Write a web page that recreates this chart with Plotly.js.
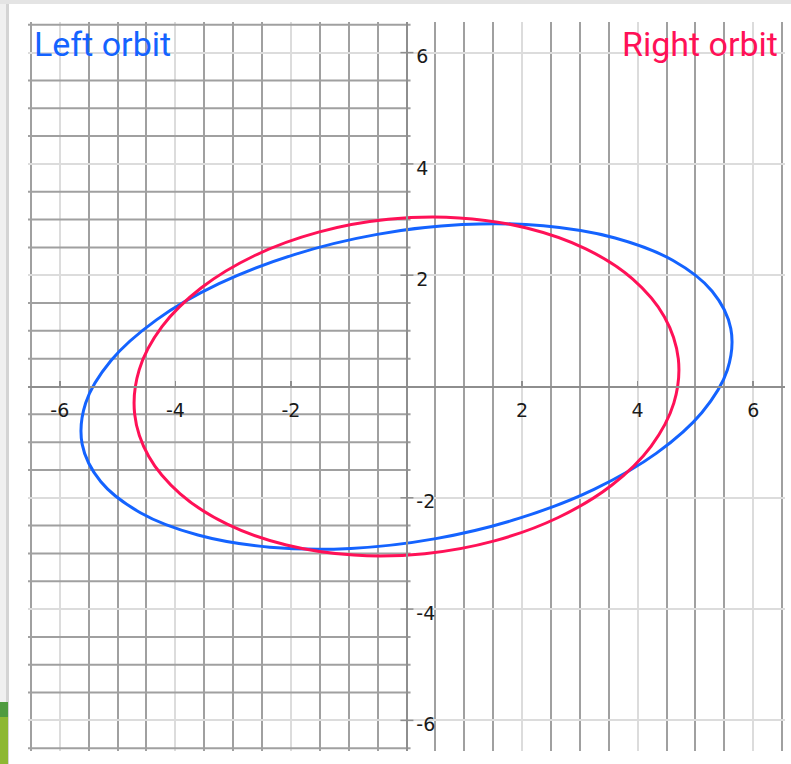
<!DOCTYPE html>
<html>
<head>
<meta charset="utf-8">
<script src="https://cdn.plot.ly/plotly-3.0.1.min.js"></script>
<style>
html,body{margin:0;padding:0;background:#ffffff;}
#chart{width:791px;height:764px;}
</style>
</head>
<body>
<div id="chart"></div>
<script>
// ---- data ----
const tickValues = [-6, -4, -2, 2, 4, 6];
const tickLabels = ['-6', '-4', '-2', '2', '4', '6'];
const seriesNames = ['Left orbit', 'Right orbit'];

// points along each orbit (closed loops)
const leftOrbitX = [5.612, 5.289, 4.606, 3.610, 2.367, 0.963, -0.507, -1.942, -3.245, -4.327, -5.113, -5.552,
                    -5.612, -5.289, -4.606, -3.610, -2.367, -0.963, 0.507, 1.942, 3.245, 4.327, 5.113, 5.552, 5.612];
const leftOrbitY = [1.040, 1.712, 2.268, 2.669, 2.888, 2.910, 2.734, 2.371, 1.847, 1.197, 0.466, -0.297,
                    -1.040, -1.712, -2.268, -2.669, -2.888, -2.910, -2.734, -2.371, -1.847, -1.197, -0.466, 0.297, 1.040];

const rightOrbitX = [4.704, 4.462, 3.916, 3.103, 2.079, 0.913, -0.316, -1.522, -2.626, -3.550, -4.232, -4.626,
                     -4.704, -4.462, -3.916, -3.103, -2.079, -0.913, 0.316, 1.522, 2.626, 3.550, 4.232, 4.626, 4.704];
const rightOrbitY = [0.495, 1.255, 1.930, 2.474, 2.849, 3.030, 3.004, 2.774, 2.354, 1.774, 1.074, 0.300,
                     -0.495, -1.255, -1.930, -2.474, -2.849, -3.030, -3.004, -2.774, -2.354, -1.774, -1.074, -0.300, 0.495];

// ---- styles ----
const BLUE = '#1463FF';
const RED = '#FF1157';
const DARK = '#a0a0a0';
const LIGHT = '#dcdcdc';
const AXIS = '#8e8e8e';

const traces = [
  {x: leftOrbitX, y: leftOrbitY, name: seriesNames[0], mode: 'lines',
   line: {color: BLUE, width: 3, shape: 'spline', smoothing: 1}, hoverinfo: 'skip'},
  {x: rightOrbitX, y: rightOrbitY, name: seriesNames[1], mode: 'lines',
   line: {color: RED, width: 3, shape: 'spline', smoothing: 1}, hoverinfo: 'skip'}
];

// geometry of the plot area (pixels)
const M = {l: 28, r: 6, t: 22, b: 13};
const W = 791, H = 764;
const PW = W - M.l - M.r, PH = H - M.t - M.b;
const px2paperX = p => (p - M.l) / PW;
const px2paperY = p => 1 - (p - M.t) / PH;

const shapes = [];
// dark half-grid lines on the left half (every 0.5 unit, not on the labelled even values)
for (let k = -13; k <= 13; k++) {
  const v = k / 2;
  if (Number.isInteger(v) && v % 2 === 0) continue;
  shapes.push({type: 'line', xref: 'x', yref: 'y', x0: -6.55, x1: 0.07, y0: v, y1: v,
               layer: 'between', line: {color: DARK, width: 2}});
}
// crossing tick marks on the vertical axis
tickValues.forEach(v => {
  shapes.push({type: 'line', xref: 'x', yref: 'y', x0: -0.105, x1: 0.12, y0: v, y1: v,
               layer: 'between', line: {color: AXIS, width: 1.5}});
});
// window chrome around the screenshot
function rectPx(x0, x1, y0, y1, color) {
  shapes.push({type: 'rect', xref: 'paper', yref: 'paper',
               x0: px2paperX(x0), x1: px2paperX(x1), y0: px2paperY(y0), y1: px2paperY(y1),
               fillcolor: color, line: {width: 0}, layer: 'above'});
}
rectPx(0, 791, 0, 4, '#e4e4e4');
rectPx(0, 6, 4, 764, '#f0f0f0');
rectPx(6, 9, 4, 764, '#d4d4d4');
rectPx(0, 8, 702, 717, '#4f9b3f');
rectPx(0, 8, 717, 764, '#8db833');

const layout = {
  width: W, height: H,
  margin: {l: M.l, r: M.r, t: M.t, b: M.b, pad: 0},
  paper_bgcolor: '#ffffff', plot_bgcolor: '#ffffff',
  showlegend: false,
  xaxis: {
    range: [-6.55, 6.55], anchor: 'free', position: 0.5, side: 'bottom', automargin: false,
    tickmode: 'array', tickvals: tickValues, ticktext: tickLabels,
    ticks: 'inside', ticklen: 5, tickwidth: 1.5, tickcolor: AXIS,
    showgrid: true, gridcolor: LIGHT, gridwidth: 2,
    minor: {tickmode: 'linear', tick0: 0, dtick: 0.5, showgrid: true, gridcolor: DARK, gridwidth: 2, ticks: ''},
    showline: true, linecolor: AXIS, linewidth: 2, zeroline: false,
    tickfont: {family: 'DejaVu Sans', size: 19, color: '#1a1a1a'},
    ticklabelstandoff: 7, fixedrange: true
  },
  yaxis: {
    range: [-6.55, 6.55], anchor: 'free', position: 0.5, side: 'right', automargin: false,
    tickmode: 'array', tickvals: tickValues, ticktext: tickLabels,
    ticks: '', showgrid: true, gridcolor: LIGHT, gridwidth: 2,
    showline: true, linecolor: AXIS, linewidth: 2, zeroline: false,
    tickfont: {family: 'DejaVu Sans', size: 19, color: '#1a1a1a'},
    ticklabelstandoff: 5, ticklabelshift: 4, fixedrange: true
  },
  shapes: shapes,
  annotations: [
    {text: seriesNames[0], xref: 'paper', yref: 'paper', x: px2paperX(31.5), y: 1.0,
     xanchor: 'left', yanchor: 'top', showarrow: false,
     font: {family: 'Roboto', size: 34, color: BLUE}},
    {text: seriesNames[1], xref: 'paper', yref: 'paper', x: px2paperX(780), y: 1.0,
     xanchor: 'right', yanchor: 'top', showarrow: false,
     font: {family: 'Roboto', size: 34, color: RED}}
  ]
};

Plotly.newPlot('chart', traces, layout, {staticPlot: true, displayModeBar: false});
</script>
</body>
</html>
